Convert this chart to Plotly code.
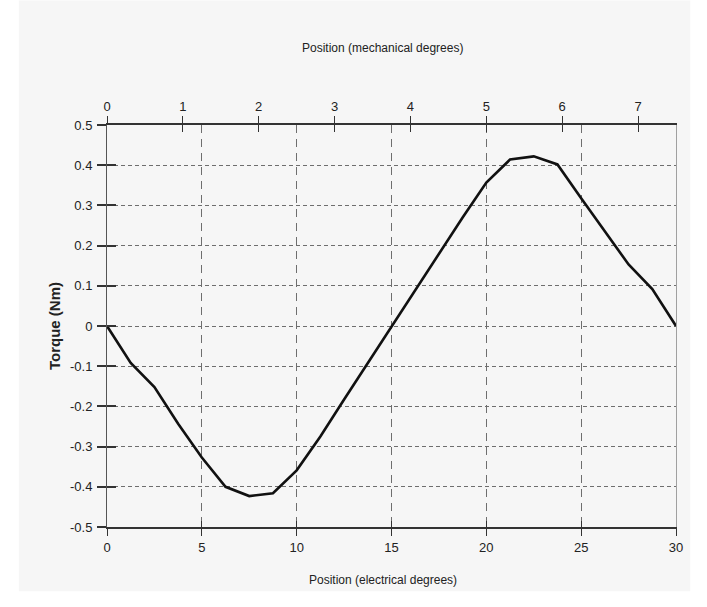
import plotly.graph_objects as go

# Data
electrical_deg = [0, 1.25, 2.5, 3.75, 5, 6.25, 7.5, 8.75, 10, 11.25, 12.5, 13.75, 15,
                  16.25, 17.5, 18.75, 20, 21.25, 22.5, 23.75, 25, 26.25, 27.5, 28.75, 30]
torque_nm = [0, -0.092, -0.152, -0.243, -0.327, -0.400, -0.423, -0.416, -0.359, -0.275,
             -0.183, -0.092, 0.0, 0.09, 0.18, 0.27, 0.357, 0.414, 0.422, 0.402, 0.318,
             0.235, 0.153, 0.092, 0.0]
pole_pairs = 4
mech_ticks = [0, 1, 2, 3, 4, 5, 6, 7]
elec_ticks = [0, 5, 10, 15, 20, 25, 30]
y_ticks = [0.5, 0.4, 0.3, 0.2, 0.1, 0, -0.1, -0.2, -0.3, -0.4, -0.5]
y_ticktext = ["0.5", "0.4", "0.3", "0.2", "0.1", "0", "-0.1", "-0.2", "-0.3", "-0.4", "-0.5"]

mech_deg = [e / pole_pairs for e in electrical_deg]

FONT = "Liberation Sans, Arial, sans-serif"
TICKFONT = dict(family=FONT, size=13, color="#222")
AXCOL = "#333"
GRIDCOL = "#6e6e6e"

fig = go.Figure()
fig.add_trace(go.Scatter(x=electrical_deg, y=torque_nm, mode="lines",
                         line=dict(color="#111", width=2.6), xaxis="x", yaxis="y",
                         showlegend=False, hoverinfo="x+y"))
# invisible helper traces to materialize overlay axes
invis = dict(mode="lines", line=dict(color="rgba(0,0,0,0)", width=0), showlegend=False, hoverinfo="skip")
fig.add_trace(go.Scatter(x=mech_deg, y=torque_nm, xaxis="x2", yaxis="y", **invis))
fig.add_trace(go.Scatter(x=electrical_deg, y=torque_nm, xaxis="x3", yaxis="y2", **invis))
fig.add_trace(go.Scatter(x=mech_deg, y=torque_nm, xaxis="x4", yaxis="y3", **invis))

fig.update_layout(
    width=707, height=607,
    margin=dict(l=107, r=31, t=125, b=80),
    paper_bgcolor="#ffffff",
    plot_bgcolor="#fcfcfc",
    font=dict(family=FONT, color="#222"),
    xaxis=dict(range=[0, 30], tickvals=elec_ticks, ticks="outside", ticklen=7, tickwidth=1.2,
               tickcolor=AXCOL, showline=True, linecolor=AXCOL, linewidth=2,
               showgrid=True, gridcolor=GRIDCOL, gridwidth=1, griddash="8px,6px",
               zeroline=False, tickfont=TICKFONT, anchor="y", side="bottom",
               fixedrange=True),
    xaxis2=dict(range=[0, 7.5], tickvals=mech_ticks, ticks="outside", ticklen=7, tickwidth=1.2,
                tickcolor=AXCOL, showline=True, linecolor=AXCOL, linewidth=2,
                showgrid=False, zeroline=False, tickfont=TICKFONT, overlaying="x",
                side="top", anchor="y"),
    xaxis3=dict(range=[0, 30], tickvals=elec_ticks, ticks="inside", ticklen=6, tickwidth=1.2,
                tickcolor=AXCOL, showticklabels=False, showline=False, showgrid=False,
                zeroline=False, overlaying="x", side="bottom", anchor="y2"),
    xaxis4=dict(range=[0, 7.5], tickvals=mech_ticks, ticks="inside", ticklen=7, tickwidth=1.2,
                tickcolor=AXCOL, showticklabels=False, showline=False, showgrid=False,
                zeroline=False, overlaying="x", side="top", anchor="y3"),
    yaxis=dict(range=[-0.5, 0.5], tickvals=y_ticks, ticktext=y_ticktext, ticks="outside",
               ticklen=9, tickwidth=1.5, tickcolor=AXCOL, showline=True, linecolor="#555",
               linewidth=1, showgrid=True, gridcolor=GRIDCOL, gridwidth=1,
               griddash="4px,3px", zeroline=False, tickfont=TICKFONT, ticklabelstandoff=2,
               anchor="x"),
    yaxis2=dict(range=[-0.5, 0.5], tickvals=y_ticks, ticks="inside", ticklen=9, tickwidth=1.5,
                tickcolor=AXCOL, showticklabels=False, showline=False, showgrid=False,
                zeroline=False, overlaying="y", side="left", anchor="x3"),
    yaxis3=dict(range=[-0.5, 0.5], ticks="", showticklabels=False, showline=True,
                linecolor="#a0a0a0", linewidth=1, showgrid=False, zeroline=False,
                overlaying="y", side="right", anchor="x4"),
    annotations=[
        dict(text="Position (electrical degrees)", xref="paper", yref="paper",
             x=0.485, y=-0.132, showarrow=False, xanchor="center", yanchor="middle",
             font=dict(family=FONT, size=12, color="#222")),
        dict(text="Position (mechanical degrees)", xref="paper", yref="paper",
             x=0.485, y=1.1915, showarrow=False, xanchor="center", yanchor="middle",
             font=dict(family=FONT, size=12, color="#222")),
        dict(text="<b>Torque (Nm)</b>", xref="paper", yref="paper",
             x=-0.093, y=0.5, showarrow=False, xanchor="center", yanchor="middle",
             textangle=-90, font=dict(family=FONT, size=15, color="#222")),
    ],
    shapes=[
        dict(type="rect", xref="paper", yref="paper", x0=-0.155, x1=1.025, y0=-0.16, y1=1.31,
             fillcolor="#f6f6f6", line=dict(width=0), layer="below"),
    ],
)

fig.write_html("out.html")
